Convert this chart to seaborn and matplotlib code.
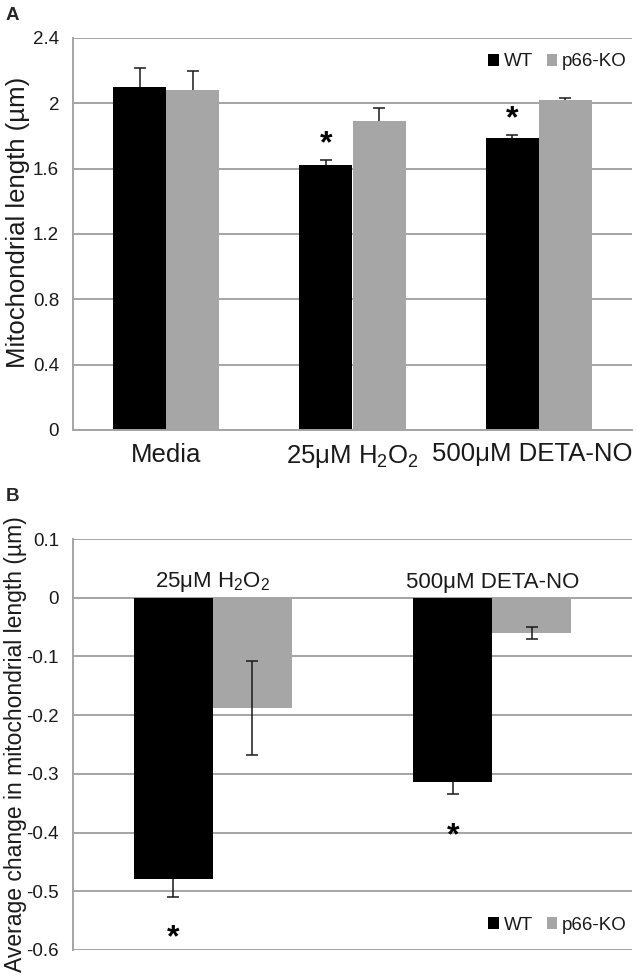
import numpy as np
import pandas as pd
import matplotlib
matplotlib.use("Agg")
import matplotlib.pyplot as plt
import matplotlib.transforms as mtransforms
import seaborn as sns

# ---------------- data ----------------
genotypes = ["WT", "p66-KO"]

a_categories = ["Media", "25μM H$_2$O$_2$", "500μM DETA-NO"]
a_wt = [2.10, 1.62, 1.785]
a_ko = [2.08, 1.89, 2.02]
a_wt_err = [0.115, 0.03, 0.02]
a_ko_err = [0.12, 0.08, 0.01]
a_sig_wt = [False, True, True]
a_yticks = [0, 0.4, 0.8, 1.2, 1.6, 2.0, 2.4]
a_yticklabels = ["0", "0.4", "0.8", "1.2", "1.6", "2", "2.4"]

b_categories = ["25μM H$_2$O$_2$", "500μM DETA-NO"]
b_wt = [-0.479, -0.314]
b_ko = [-0.188, -0.060]
b_wt_err = [0.030, 0.021]
b_ko_err = [0.080, 0.010]
b_sig_wt = [True, True]
b_yticks = [0.1, 0, -0.1, -0.2, -0.3, -0.4, -0.5, -0.6]
b_yticklabels = ["0.1", "0", "-0.1", "-0.2", "-0.3", "-0.4", "-0.5", "-0.6"]

# ---------------- style ----------------
sns.set_style("white")
plt.rcParams["font.family"] = ["Liberation Sans", "DejaVu Sans"]
plt.rcParams["mathtext.fontset"] = "custom"
plt.rcParams["mathtext.rm"] = "Liberation Sans"
plt.rcParams["mathtext.it"] = "Liberation Sans:italic"
plt.rcParams["mathtext.bf"] = "Liberation Sans:bold"

palette = {"WT": "#000000", "p66-KO": "#a6a6a6"}
grid_c = "#a4a4a4"
text_c = "#1a1a1a"
err_c = "#1a1a1a"

fig = plt.figure(figsize=(6.37, 9.77), dpi=100)
axA = fig.add_axes([73/637, 1-430/977, (632-73)/637, (430-38)/977])
axB = fig.add_axes([73/637, 1-950/977, (632-73)/637, (950-539)/977])


def make_df(cats, wt, ko):
    return pd.DataFrame({
        "cond": list(cats) * 2,
        "geno": ["WT"] * len(cats) + ["p66-KO"] * len(cats),
        "val": list(wt) + list(ko),
    })


def style_axis(ax, yticks, ylabels, ylim, ncat):
    ax.set_ylim(*ylim)
    ax.set_xlim(-0.5, ncat - 0.5)
    ax.set_yticks(yticks)
    ax.set_yticklabels(ylabels)
    ax.yaxis.grid(True, color=grid_c, lw=1.4)
    ax.xaxis.grid(False)
    ax.set_axisbelow(True)
    for s in ["top", "right"]:
        ax.spines[s].set_visible(False)
    ax.spines["left"].set_color(grid_c)
    ax.spines["left"].set_linewidth(1.4)
    ax.tick_params(axis="y", length=0, pad=10, labelsize=13.5, colors=text_c)
    ax.set_xlabel("")


def draw_err(ax, cont, errs, up, down):
    xs = np.array([p.get_x() + p.get_width() / 2 for p in cont.patches])
    ys = np.array([p.get_y() + p.get_height() for p in cont.patches])
    errs = np.asarray(errs)
    lo = errs if down else np.zeros_like(errs)
    hi = errs if up else np.zeros_like(errs)
    _, caps, _ = ax.errorbar(xs, ys, yerr=[lo, hi], fmt="none", ecolor=err_c,
                             elinewidth=1.1, capsize=4, capthick=1.1)
    for cl in caps:
        if np.allclose(cl.get_ydata(), ys):
            cl.set_visible(False)


def legend(ax, y):
    leg = ax.legend(loc="center right", bbox_to_anchor=(0.99, y), ncol=2,
                    frameon=False, fontsize=13.5, handlelength=0.55,
                    handleheight=0.55, handletextpad=0.25, columnspacing=0.75,
                    borderaxespad=0, borderpad=0)
    for t in leg.get_texts():
        t.set_color(text_c)


# ---------------- Panel A ----------------
dfA = make_df(a_categories, a_wt, a_ko)
sns.barplot(data=dfA, x="cond", y="val", hue="geno", hue_order=genotypes,
            palette=palette, width=0.57, errorbar=None, saturation=1,
            linewidth=0, edgecolor="none", ax=axA, legend=True)
style_axis(axA, a_yticks, a_yticklabels, (0, 2.4), len(a_categories))
axA.spines["bottom"].set_color(grid_c)
axA.spines["bottom"].set_linewidth(1.4)
axA.tick_params(axis="x", length=0, pad=9, labelsize=18.5, colors=text_c)
axA.set_ylabel("Mitochondrial length (µm)", fontsize=18.5, color=text_c,
               va="center")
axA.yaxis.set_label_coords(-55/559, 0.53)
lbls = axA.get_xticklabels()
lbls[-1].set_transform(lbls[-1].get_transform() +
                       mtransforms.ScaledTranslation(-7/100, 0, fig.dpi_scale_trans))

draw_err(axA, axA.containers[0], a_wt_err, up=True, down=False)
draw_err(axA, axA.containers[1], a_ko_err, up=True, down=False)
for p, e, sig in zip(axA.containers[0].patches, a_wt_err, a_sig_wt):
    if sig:
        axA.annotate("*", (p.get_x() + p.get_width() / 2, p.get_height() + e),
                     xytext=(0, 1), textcoords="offset points",
                     ha="center", va="bottom", fontsize=23, fontweight="bold",
                     color="#000000")
legend(axA, (430-62)/392)

# ---------------- Panel B ----------------
dfB = make_df(b_categories, b_wt, b_ko)
sns.barplot(data=dfB, x="cond", y="val", hue="geno", hue_order=genotypes,
            palette=palette, width=0.566, errorbar=None, saturation=1,
            linewidth=0, edgecolor="none", ax=axB, legend=True)
style_axis(axB, b_yticks, b_yticklabels, (-0.6, 0.1), len(b_categories))
axB.spines["bottom"].set_visible(False)
axB.tick_params(axis="x", length=0, labelbottom=False)
axB.set_ylabel("Average change in mitochondrial length (µm)", fontsize=16.5,
               color=text_c, va="center")
axB.yaxis.set_label_coords(-57/559, 0.5)

for i, lab in enumerate(b_categories):
    axB.text(i, 0.026, lab, ha="center", va="center", fontsize=16, color=text_c)

draw_err(axB, axB.containers[0], b_wt_err, up=False, down=True)
draw_err(axB, axB.containers[1], b_ko_err, up=True, down=True)
for p, e, sig in zip(axB.containers[0].patches, b_wt_err, b_sig_wt):
    if sig:
        top = p.get_y() + p.get_height()
        axB.annotate("*", (p.get_x() + p.get_width() / 2, top - e),
                     xytext=(0, -19), textcoords="offset points",
                     ha="center", va="top", fontsize=23, fontweight="bold",
                     color="#000000")
legend(axB, (950-925)/411)

fig.text(6/637, 1-15/977, "A", fontsize=13.5, fontweight="bold", va="center", ha="left")
fig.text(6/637, 1-497/977, "B", fontsize=13.5, fontweight="bold", va="center", ha="left")

fig.savefig("out.png", dpi=100)
